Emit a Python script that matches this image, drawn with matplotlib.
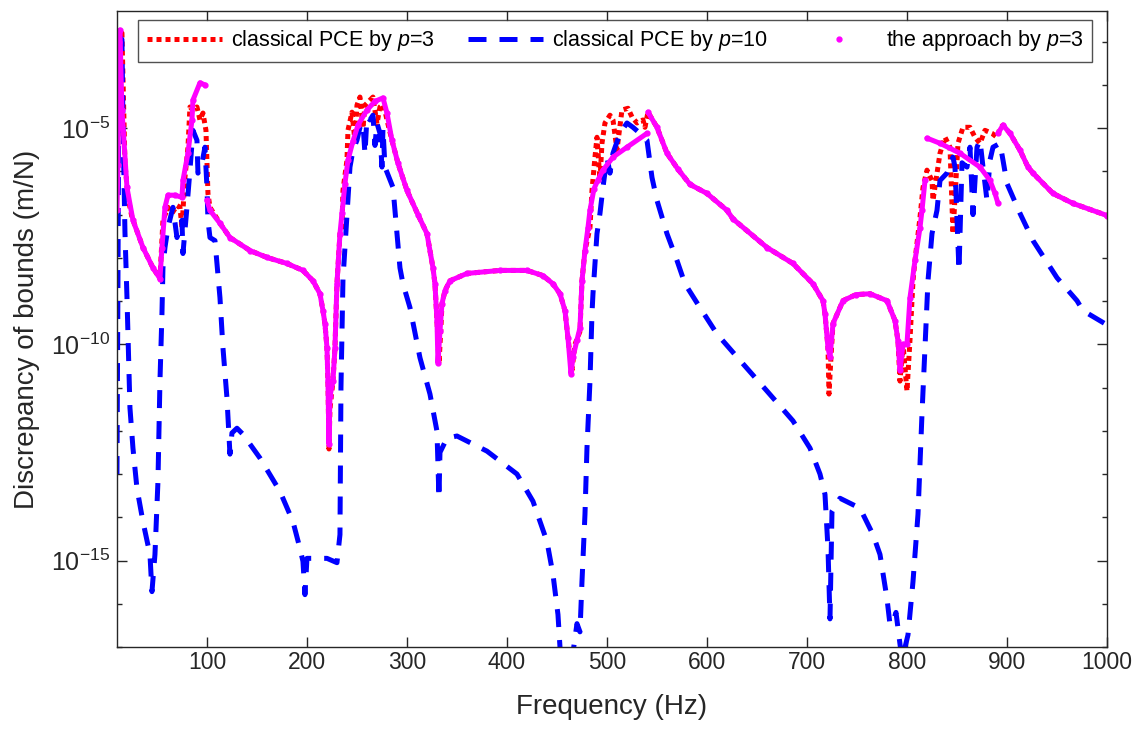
import numpy as np
import matplotlib
matplotlib.use('Agg')
import matplotlib.pyplot as plt
from matplotlib.ticker import FixedLocator, NullFormatter

plt.rcParams['font.family'] = ['Liberation Sans', 'DejaVu Sans']
plt.rcParams['mathtext.fontset'] = 'custom'
plt.rcParams['mathtext.rm'] = 'Liberation Sans'
plt.rcParams['mathtext.it'] = 'Liberation Sans:italic'
plt.rcParams['mathtext.default'] = 'regular'
plt.rcParams['axes.unicode_minus'] = False

nan = np.nan

# frequency (Hz) and log10 of the discrepancy (m/N)
red_f = [10, 12, 13, 15, 18, 21, 25, 36, 46, 53, 55, 56, 61, 65, 70, 73, 75, 78, 81, 83,
         86, 90, 93, 96, 99, 101, 103, 113, 123, 143, 160, 180, 196, 206, 213, 216, 218, 220, 221, 222,
         223, 226, 228, 230, 233, 235, 236, 240, 241, 245, 248, 250, 253, 256, 258, 263, 266, 270, 273, 276,
         278, 280, 285, 291, 300, 311, 320, 326, 328, 330, 332, 334, 335, 338, 343, 360, 393, 420, 436, 446,
         453, 458, 461, 465, 468, 473, 475, 478, 483, 485, 488, 490, 493, 495, 498, 503, 506, 510, 515, 521,
         525, 530, 536, 538, 541, 550, 560, 571, 583, 600, 620, 626, 660, 686, 706, 716, 718, 721, 722, 724,
         726, 736, 749, 763, 780, 788, 791, 793, 796, 800, 803, 806, 808, 813, 816, 820, 825, 826, 831, 833,
         838, 843, 846, 851, 856, 863, 868, 873, 878, 885, 890, 893, 896, 903, 913, 921, 926, 946, 966, 1000]
red_lg = [-6.44, -4.0, -2.75, -2.80, -5.81, -6.60, -7.06, -7.76, -8.23, -8.48, -7.60, -7.13, -6.83, -6.97, -6.79, -6.83, -7.30, -6.14, -5.44, -4.51,
          -4.58, -4.51, -4.81, -4.65, -5.05, -6.51, -6.83, -7.20, -7.53, -7.83, -7.99, -8.13, -8.29, -8.53, -8.83, -9.22, -9.52, -10.08, -10.85, -12.42,
          -11.50, -10.85, -10.08, -8.60, -7.44, -7.30, -6.44, -5.74, -5.05, -4.63, -5.30, -4.47, -4.28, -5.00, -4.47, -4.35, -4.28, -4.90, -4.51, -4.45,
          -4.60, -4.81, -5.28, -5.81, -6.44, -7.00, -7.44, -8.23, -8.60, -9.45, -10.45, -9.60, -9.06, -8.76, -8.53, -8.36, -8.29, -8.29, -8.41, -8.60,
          -8.83, -9.22, -9.85, -10.60, -10.00, -9.70, -8.53, -7.83, -7.30, -6.44, -5.67, -5.21, -6.20, -5.35, -4.88, -4.70, -4.81, -5.50, -4.58, -4.54,
          -4.74, -4.88, -4.81, -4.98, -4.63, -4.98, -5.58, -5.95, -6.30, -6.51, -6.90, -7.10, -7.76, -8.13, -8.60, -8.99, -9.29, -10.08, -11.15, -10.30,
          -9.52, -8.99, -8.85, -8.83, -8.99, -9.45, -9.92, -10.85, -10.00, -11.08, -9.90, -8.53, -8.06, -7.06, -6.37, -5.97, -6.21, -6.67, -5.90, -5.58,
          -5.21, -5.44, -7.44, -5.35, -4.98, -4.98, -5.21, -5.35, -5.05, -5.12, -5.21, -5.00, -4.93, -5.12, -5.51, -5.90, -6.04, -6.51, -6.74, -7.02]

blue_f = [10, 11, 12, 13, 15, 16, 18, 20, 23, 26, 30, 36, 43, 45, 48, 51, 53, 55, 56, 58,
          61, 66, 70, 75, 76, 80, 83, 86, 90, 91, 95, 98, 100, 101, 103, 108, 110, 113, 116, 120,
          123, 125, 130, 136, 153, 173, 186, 193, 196, 198, 200, 210, 220, 230, 233, 234, 236, 241, 243, 246,
          250, 253, 256, 258, 260, 263, 266, 268, 270, 273, 275, 276, 278, 286, 293, 296, 303, 313, 323, 330,
          331, 332, 333, 340, 350, 380, 410, 426, 440, 446, 451, 453, 455, 462, 470, 473, 475, 478, 480, 483,
          485, 486, 490, 493, 496, 500, 503, 506, 513, 520, 526, 533, 540, 545, 550, 560, 570, 578, 593, 610,
          636, 660, 686, 703, 713, 718, 721, 723, 725, 733, 753, 766, 773, 780, 783, 786, 789, 795, 801, 806,
          811, 815, 818, 821, 825, 830, 833, 840, 846, 848, 852, 855, 860, 863, 866, 870, 873, 876, 880, 883,
          886, 893, 896, 900, 913, 926, 950, 970, 976, 1000]
blue_lg = [-13.00, -8.50, -3.40, -2.89, -2.95, -4.88, -7.40, -8.90, -11.47, -12.40, -13.33, -14.10, -14.86, -15.72, -14.86, -13.17, -10.85, -9.29, -8.23, -7.76,
           -7.30, -6.83, -7.53, -7.13, -7.90, -6.83, -5.97, -5.05, -5.28, -6.04, -5.81, -5.44, -6.37, -7.13, -7.53, -7.60, -8.13, -8.92, -10.08, -11.24,
           -12.54, -12.05, -11.94, -12.08, -12.63, -13.40, -14.10, -14.72, -15.02, -15.79, -14.95, -14.95, -14.95, -15.05, -14.40, -11.00, -8.50, -6.67, -5.90, -5.51,
           -5.28, -4.98, -4.88, -5.60, -4.74, -4.81, -4.70, -5.40, -4.88, -5.12, -5.90, -5.00, -5.90, -6.37, -8.23, -8.60, -9.15, -10.31, -11.15, -12.01,
           -12.77, -13.56, -12.50, -12.17, -12.12, -12.47, -13.00, -13.63, -14.56, -15.32, -16.25, -17.00, -17.30, -17.80, -16.46, -16.65, -15.49, -13.93, -12.40, -10.85,
           -9.29, -8.83, -7.44, -6.97, -6.37, -5.67, -6.04, -5.58, -5.12, -4.88, -4.98, -5.12, -5.28, -6.14, -6.67, -7.44, -8.06, -8.60, -9.15, -9.76,
           -10.45, -11.08, -11.77, -12.40, -13.00, -13.47, -14.72, -16.35, -13.86, -13.56, -13.79, -14.40, -14.86, -15.88, -16.48, -16.42, -16.20, -17.30, -16.72, -15.49,
           -13.93, -11.61, -10.08, -8.53, -7.44, -6.90, -6.21, -6.04, -5.67, -5.90, -8.30, -5.80, -5.90, -5.44, -7.00, -5.44, -5.28, -5.90, -6.67, -5.74,
           -5.44, -5.35, -5.74, -6.28, -6.97, -7.60, -8.46, -8.99, -9.22, -9.55]

# the approach by p=3 (nan = gap between frequency bands)
mag_f = [10, 11, 12, 13, 15, 20, 26, 36, 46, 53, 55, 58, 61, 68, 75, 76, 81, 85, 86, 93, 98, nan,
         100, 103, 113, 123, 143, 160, 180, 196, 206, 213, 216, 218, 220, 221, 222, 223, 226, 228, 230, 233,
         235, 238, 241, 246, 251, 260, 268, 276, 280, 285, 291, 300, 311, 320, 326, 328, 330, 331, 333, 335,
         338, 343, 360, 393, 420, 436, 446, 453, 458, 461, 464, 466, 470, 473, 475, 478, 481, 483, 487, 491,
         496, 506, 520, 540, nan,
         541, 550, 560, 571, 583, 600, 620, 626, 660, 686, 706, 716, 718, 721, 723, 726, 736, 749, 763, 780,
         788, 791, 793, 796, 800, 803, 808, 813, 815, 818, nan,
         820, 833, 853, 873, 883, 888, 891, nan,
         891, 896, 903, 913, 921, 926, 946, 966, 1000]
mag_lg = [-6.90, -5.85, -3.00, -2.73, -4.58, -6.37, -7.13, -7.76, -8.23, -8.48, -7.76, -6.83, -6.55, -6.55, -6.60, -6.21, -5.58, -4.81, -4.35, -3.95, -4.00, nan,
          -6.67, -6.90, -7.20, -7.53, -7.83, -7.99, -8.13, -8.29, -8.53, -8.83, -9.22, -9.52, -10.08, -10.85, -12.30, -11.20, -10.85, -10.08, -8.60, -7.44,
          -6.97, -6.28, -5.74, -5.30, -4.93, -4.58, -4.38, -4.30, -4.65, -5.28, -5.81, -6.44, -7.00, -7.44, -8.23, -8.60, -9.45, -10.43, -9.70, -9.06,
          -8.76, -8.53, -8.36, -8.29, -8.29, -8.41, -8.60, -8.83, -9.22, -9.85, -10.68, -10.30, -9.90, -9.62, -8.53, -7.83, -7.30, -6.90, -6.40, -6.20,
          -5.97, -5.67, -5.44, -5.12, nan,
          -4.63, -4.98, -5.58, -5.95, -6.30, -6.51, -6.90, -7.10, -7.76, -8.13, -8.60, -8.99, -9.29, -10.08, -10.30, -9.52, -8.99, -8.85, -8.83, -8.99,
          -9.45, -9.92, -10.60, -10.00, -9.99, -8.92, -8.06, -7.30, -6.90, -6.21, nan,
          -5.23, -5.35, -5.58, -5.90, -6.21, -6.51, -6.74, nan,
          -5.12, -4.93, -5.12, -5.51, -5.90, -6.04, -6.51, -6.74, -7.02]

red_y = 10.0 ** np.array(red_lg)
blue_y = 10.0 ** np.array(blue_lg)
mag_y = 10.0 ** np.array(mag_lg)

fig = plt.figure(figsize=(11.41, 7.29), dpi=100)
ax = fig.add_axes([0.1025, 0.1125, 0.8677, 0.8724])

lw = 3.6
ax.plot(red_f, red_y, color='#ff0000', lw=lw, linestyle=(0, (1, 0.8)),
        label=r'classical PCE by $\mathit{p}$=$\mathit{3}$')
ax.plot(blue_f, blue_y, color='#0000ff', lw=lw, linestyle=(0, (3.6, 2.6)),
        label=r'classical PCE by $\mathit{p}$=$\mathit{10}$')
ax.plot(mag_f, mag_y, color='#ff00ff', lw=lw, solid_capstyle='round')
ax.plot(mag_f, mag_y, color='#ff00ff', linestyle='none', marker='.', markersize=7,
        label=r'the approach by $\mathit{p}$=$\mathit{3}$')

ax.set_yscale('log')
ax.set_xlim(10, 1000)
ax.set_ylim(1e-17, 10 ** -2.29)

ax.set_xticks([100, 200, 300, 400, 500, 600, 700, 800, 900, 1000])
ax.yaxis.set_major_locator(FixedLocator([1e-15, 1e-10, 1e-5]))
ax.yaxis.set_minor_locator(FixedLocator(10.0 ** np.arange(-17, -2)))
ax.yaxis.set_minor_formatter(NullFormatter())

dark = '#262626'
for s in ax.spines.values():
    s.set_color(dark)
    s.set_linewidth(1.0)
ax.tick_params(which='both', direction='in', top=True, right=True, colors=dark, width=1.0)
ax.tick_params(which='major', length=7)
ax.tick_params(which='minor', length=3.6)
ax.tick_params(axis='x', labelsize=16.5, pad=3)
ax.tick_params(axis='y', labelsize=18, pad=5)

ax.set_xlabel('Frequency (Hz)', fontsize=20, color=dark, labelpad=14)
ax.set_ylabel('Discrepancy of bounds (m/N)', fontsize=20, color=dark, labelpad=8)

leg = fig.legend(loc='lower left', bbox_to_anchor=(138 / 1141, 1 - 62 / 729, 954 / 1141, 38 / 729),
                 mode='expand', ncol=3, fontsize=15.5, frameon=True, fancybox=False,
                 edgecolor=dark, handlelength=3.5, borderaxespad=0, handletextpad=0.4,
                 columnspacing=1.0)
leg.get_frame().set_linewidth(1.0)

fig.savefig('out.png', dpi=100)
